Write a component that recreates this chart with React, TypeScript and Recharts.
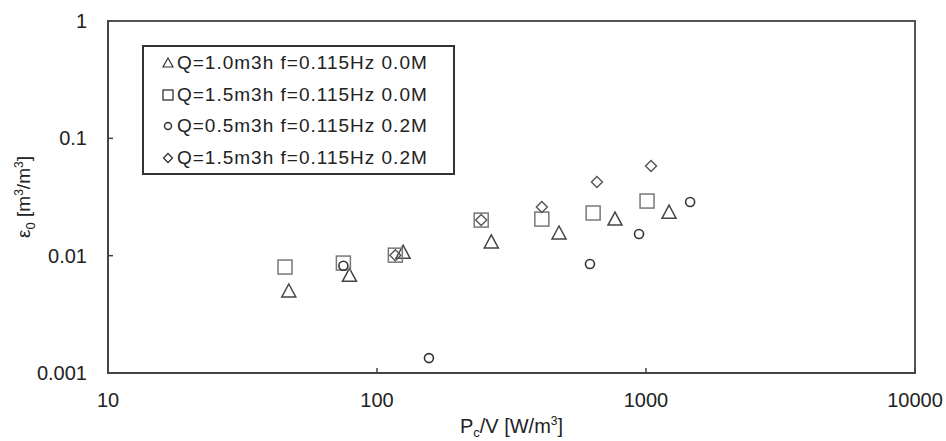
import React from "react";
import {
  ScatterChart,
  Scatter,
  XAxis,
  YAxis,
  ReferenceArea,
  Label,
} from "recharts";

const xTicks = [10, 100, 1000, 10000];
const yTicks = [0.001, 0.01, 0.1, 1];

const seriesNames = [
  "Q=1.0m3h f=0.115Hz 0.0M",
  "Q=1.5m3h f=0.115Hz 0.0M",
  "Q=0.5m3h f=0.115Hz 0.2M",
  "Q=1.5m3h f=0.115Hz 0.2M",
];

// triangles
const triX = [47, 79, 125, 266, 475, 767, 1218];
const triY = [0.005, 0.0068, 0.0107, 0.0131, 0.0156, 0.0205, 0.0235];
// squares
const sqX = [45.5, 75, 117, 244, 410, 636, 1009];
const sqY = [0.008, 0.00865, 0.0101, 0.0201, 0.0205, 0.0231, 0.0292];
// circles
const cirX = [75, 156, 619, 942, 1459];
const cirY = [0.0082, 0.00134, 0.00848, 0.0153, 0.0287];
// diamonds
const diaX = [117, 244, 410, 657, 1044];
const diaY = [0.0101, 0.0201, 0.026, 0.0424, 0.058];

const zip = (xs: number[], ys: number[]) => xs.map((x, i) => ({ x, y: ys[i] }));

const FONT = '"Liberation Sans", Arial, sans-serif';
const TEXT = "#222";

const Triangle = ({ cx, cy }: any) => (
  <path
    d={`M${cx},${cy - 7} L${cx + 7},${cy + 6} L${cx - 7},${cy + 6} Z`}
    fill="none"
    stroke="#444"
    strokeWidth={1.5}
  />
);
const Square = ({ cx, cy }: any) => (
  <rect x={cx - 7} y={cy - 7} width={14} height={14} fill="none" stroke="#777" strokeWidth={1.5} />
);
const Circle = ({ cx, cy }: any) => (
  <circle cx={cx} cy={cy} r={4.5} fill="none" stroke="#333" strokeWidth={1.6} />
);
const Diamond = ({ cx, cy }: any) => (
  <path
    d={`M${cx},${cy - 5.5} L${cx + 5.5},${cy} L${cx},${cy + 5.5} L${cx - 5.5},${cy} Z`}
    fill="none"
    stroke="#555"
    strokeWidth={1.4}
  />
);

const XTick = ({ x, y, payload }: any) => (
  <g>
    <line x1={x} y1={y} x2={x} y2={y - 5} stroke="#444" strokeWidth={1.5} />
    <text x={x} y={y + 34} textAnchor="middle" fontSize={20} fontFamily={FONT} fill={TEXT}>
      {payload.value}
    </text>
  </g>
);

const YTick = ({ x, y, payload }: any) => (
  <g>
    <line x1={x} y1={y} x2={x + 5} y2={y} stroke="#444" strokeWidth={1.5} />
    <text x={x - 21} y={y + 7} textAnchor="end" fontSize={20} fontFamily={FONT} fill={TEXT}>
      {String(payload.value)}
    </text>
  </g>
);

const YTitle = ({ viewBox }: any) => {
  const cx = viewBox.x - 5;
  const cy = viewBox.y + viewBox.height / 2;
  return (
    <text
      transform={`rotate(-90, ${cx}, ${cy})`}
      x={cx}
      y={cy + 7}
      textAnchor="middle"
      fontSize={19}
      fontFamily={FONT}
      fill={TEXT}
    >
      ε
      <tspan fontSize={13} dy={5}>0</tspan>
      <tspan dy={-5}> [m</tspan>
      <tspan fontSize={12} dy={-7}>3</tspan>
      <tspan dy={7}>/m</tspan>
      <tspan fontSize={12} dy={-7}>3</tspan>
      <tspan dy={7}>]</tspan>
    </text>
  );
};

const XTitle = ({ viewBox }: any) => {
  const cx = viewBox.x + viewBox.width / 2;
  return (
    <text x={cx} y={433} textAnchor="middle" fontSize={20} fontFamily={FONT} fill={TEXT}>
      P
      <tspan fontSize={13} dy={4}>c</tspan>
      <tspan dy={-4}>/V [W/m</tspan>
      <tspan fontSize={12} dy={-8}>3</tspan>
      <tspan dy={8}>]</tspan>
    </text>
  );
};

const legendIcons = [
  <path d="M6,1 L11,10 L1,10 Z" fill="none" stroke="#333" strokeWidth={1.2} />,
  <rect x={1} y={1} width={10} height={10} fill="none" stroke="#333" strokeWidth={1.3} />,
  <circle cx={6} cy={6} r={3.5} fill="none" stroke="#333" strokeWidth={1.5} />,
  <path d="M6,1.5 L10.5,6 L6,10.5 L1.5,6 Z" fill="none" stroke="#333" strokeWidth={1.3} />,
];

const LegendBox = () => (
  <div
    style={{
      position: "absolute",
      left: 142,
      top: 45,
      width: 309,
      height: 126,
      border: "2px solid #333",
      background: "#fff",
      fontFamily: FONT,
      fontSize: 19,
      color: TEXT,
      boxSizing: "content-box",
    }}
  >
    {seriesNames.map((name, i) => (
      <div
        key={name}
        style={{
          position: "absolute",
          left: 18,
          top: 3 + i * 31.7,
          height: 26,
          display: "flex",
          alignItems: "center",
          whiteSpace: "nowrap",
        }}
      >
        <svg width={12} height={12} style={{ marginRight: 3 }}>
          {legendIcons[i]}
        </svg>
        <span style={{ letterSpacing: 1 }}>{name}</span>
      </div>
    ))}
  </div>
);

export default function App() {
  return (
    <div style={{ position: "absolute", left: 0, top: 0, width: 946, height: 441, background: "#fff" }}>
      <ScatterChart width={946} height={441} margin={{ top: 21, right: 31, left: 28, bottom: 8 }}>
        <XAxis
          type="number"
          dataKey="x"
          scale="log"
          domain={[10, 10000]}
          ticks={xTicks}
          allowDataOverflow
          axisLine={{ stroke: "#444", strokeWidth: 2 }}
          tickLine={false}
          tickSize={0}
          tickMargin={0}
          tick={<XTick />}
          height={60}
          interval={0}
        >
          <Label content={<XTitle />} />
        </XAxis>
        <YAxis
          type="number"
          dataKey="y"
          scale="log"
          domain={[0.001, 1]}
          ticks={yTicks}
          allowDataOverflow
          axisLine={{ stroke: "#444", strokeWidth: 2 }}
          tickLine={false}
          tickSize={0}
          tickMargin={0}
          tick={<YTick />}
          width={80}
          interval={0}
        >
          <Label content={<YTitle />} />
        </YAxis>
        <ReferenceArea
          x1={10}
          x2={10000}
          y1={0.001}
          y2={1}
          fill="none"
          stroke="#555"
          strokeWidth={2}
          ifOverflow="visible"
        />
        <Scatter name={seriesNames[0]} data={zip(triX, triY)} shape={<Triangle />} isAnimationActive={false} />
        <Scatter name={seriesNames[1]} data={zip(sqX, sqY)} shape={<Square />} isAnimationActive={false} />
        <Scatter name={seriesNames[2]} data={zip(cirX, cirY)} shape={<Circle />} isAnimationActive={false} />
        <Scatter name={seriesNames[3]} data={zip(diaX, diaY)} shape={<Diamond />} isAnimationActive={false} />
      </ScatterChart>
      <LegendBox />
    </div>
  );
}
